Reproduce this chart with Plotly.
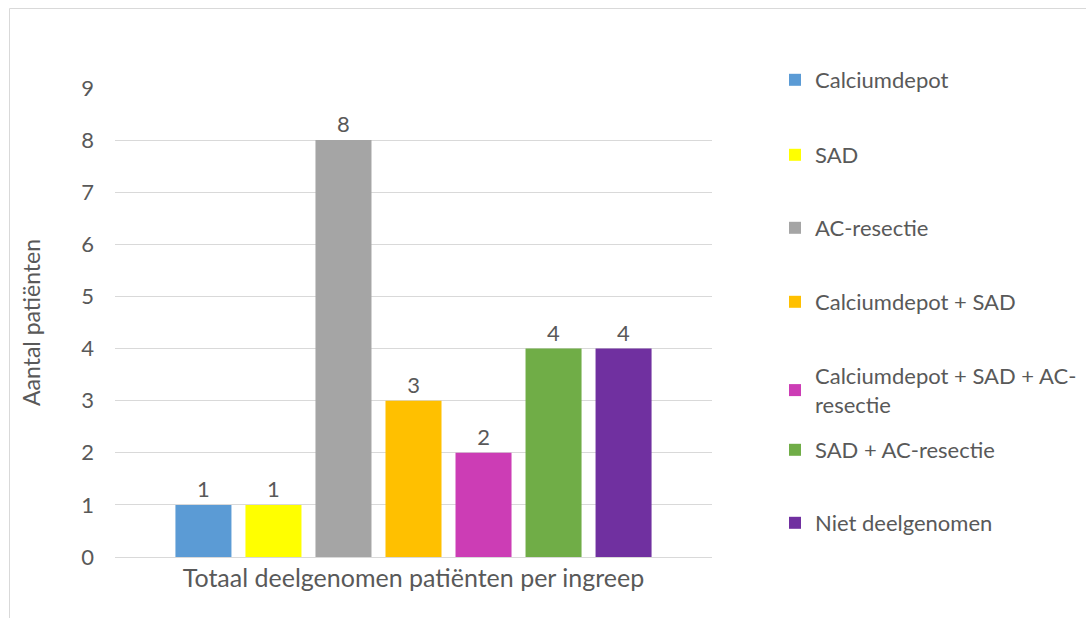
import plotly.graph_objects as go

category = ["Totaal deelgenomen patiënten per ingreep"]
series_names = [
    "Calciumdepot",
    "SAD",
    "AC-resectie",
    "Calciumdepot + SAD",
    "Calciumdepot + SAD + AC-<br>resectie",
    "SAD + AC-resectie",
    "Niet deelgenomen",
]
series_values = [1, 1, 8, 3, 2, 4, 4]
series_colors = ["#5B9BD5", "#FFFF00", "#A5A5A5", "#FFC000", "#CC3DB5", "#70AD47", "#7030A0"]
y_ticks = list(range(0, 10))

TXT = "#595959"
FONT = "Lato"

# layout geometry (pixels)
W, H = 1086, 618
L, R, T, B = 115, 374, 88, 61
pw, ph = W - L - R, H - T - B


def px_x(x):
    return (x - L) / pw


def px_y(y):
    return (H - B - y) / ph


legend_px_y = [80, 155, 228, 302, 376, 450, 523]

fig = go.Figure()
for i, (name, val, col) in enumerate(zip(series_names, series_values, series_colors)):
    fig.add_trace(go.Bar(
        x=category, y=[val], name=name,
        marker=dict(color=col, line=dict(width=0)),
        text=[val], textposition="outside", cliponaxis=False,
        textfont=dict(family=FONT, size=22, color=TXT),
        legend="legend" if i == 0 else f"legend{i+1}",
        showlegend=True,
    ))

layout_legends = {}
for i, py in enumerate(legend_px_y):
    key = "legend" if i == 0 else f"legend{i+1}"
    multi = "<br>" in series_names[i]
    layout_legends[key] = dict(
        x=px_x(775), xanchor="left",
        y=px_y(py - 21) if multi else px_y(py),
        yanchor="top" if multi else "middle",
        font=dict(family=FONT, size=22, color=TXT),
        bgcolor="rgba(0,0,0,0)", borderwidth=0,
        itemclick=False, itemdoubleclick=False,
    )

fig.update_layout(
    width=W, height=H,
    margin=dict(l=L, r=R, t=T, b=B, autoexpand=False),
    paper_bgcolor="white", plot_bgcolor="white",
    barmode="group", bargap=0.179, bargroupgap=0.2,
    font=dict(family=FONT, color=TXT),
    showlegend=True,
    **layout_legends,
    xaxis=dict(
        showgrid=False, showline=False, zeroline=False, ticks="",
        tickfont=dict(family=FONT, size=25, color=TXT),
        ticklabelstandoff=4,
    ),
    yaxis=dict(
        range=[0, 9], tickvals=y_ticks, showgrid=True, gridcolor="#D9D9D9", gridwidth=1,
        zeroline=True, zerolinecolor="#D9D9D9", zerolinewidth=1, showline=False,
        tickfont=dict(family=FONT, size=22, color=TXT),
        ticklabelstandoff=20,
        title=dict(text="Aantal patiënten", font=dict(family=FONT, size=23, color=TXT), standoff=34),
    ),
    shapes=[dict(
        type="rect", xref="paper", yref="paper",
        x0=px_x(9.5), x1=px_x(1100), y0=px_y(8.5), y1=px_y(640),
        line=dict(color="#D9D9D9", width=1), fillcolor="rgba(0,0,0,0)", layer="below",
    )],
)

fig.write_html("out.html")
